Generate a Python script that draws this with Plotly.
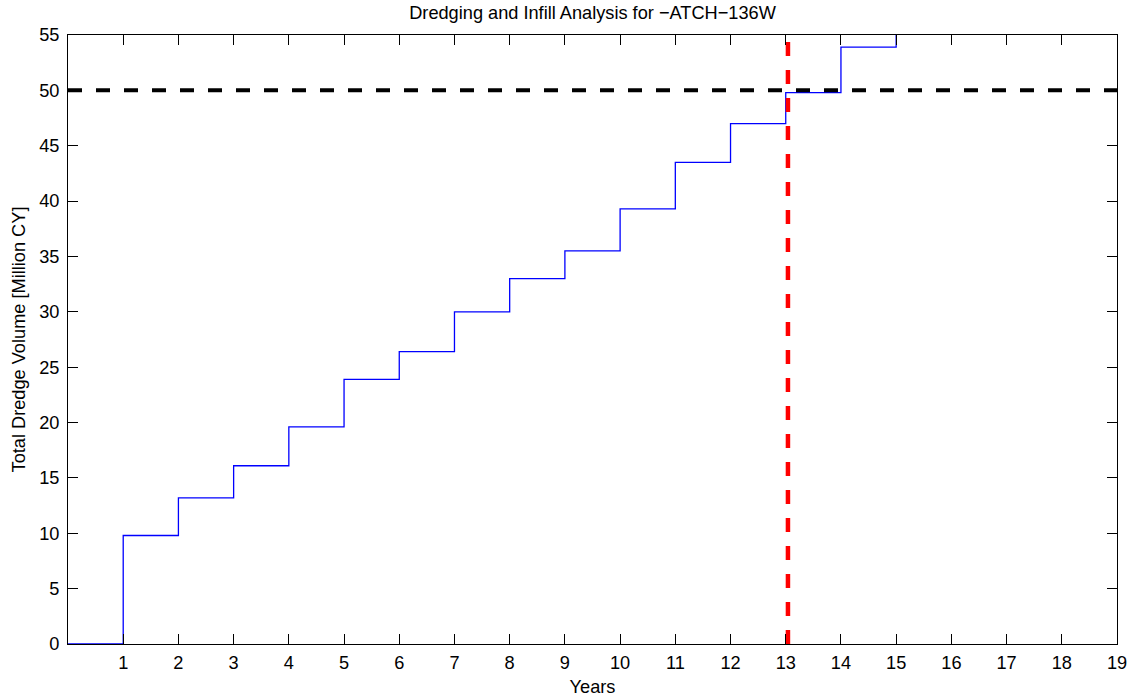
import plotly.graph_objects as go

# Data
years = [0, 1, 2, 3, 4, 5, 6, 7, 8, 9, 10, 11, 12, 13, 14, 15]
total_volume = [0.0, 9.8, 13.2, 16.1, 19.6, 23.9, 26.4, 30.0, 33.0, 35.5, 39.3, 43.5, 47.0, 49.8, 53.9, 57.5]
step_end_year = 16

threshold_volume = 50
crossing_year = 13.04

x_ticks = list(range(1, 20))
y_ticks = list(range(0, 56, 5))

font_family = "Liberation Sans, Arial, Helvetica, sans-serif"
fs = 18.2

fig = go.Figure()

fig.add_trace(go.Scatter(
    x=years + [step_end_year], y=total_volume + [total_volume[-1]],
    mode="lines", line=dict(color="#0000ff", width=1.3, shape="hv"),
    showlegend=False, hoverinfo="x+y"))

fig.add_trace(go.Scatter(
    x=[0, 19], y=[threshold_volume, threshold_volume],
    mode="lines", line=dict(color="black", width=4, dash="14px,14px"),
    showlegend=False))

fig.add_trace(go.Scatter(
    x=[crossing_year, crossing_year], y=[0, 55],
    mode="lines", line=dict(color="#ff0000", width=4.5, dash="14px,14px"),
    showlegend=False))

axis_common = dict(
    showline=True, linecolor="black", linewidth=1, mirror="ticks",
    ticks="inside", ticklen=10, tickcolor="black", tickwidth=1,
    showgrid=False, zeroline=False, automargin=False,
    tickfont=dict(family=font_family, size=fs, color="black"),
)

fig.update_layout(
    width=1129, height=698,
    margin=dict(l=68, r=12, t=35, b=54, autoexpand=False),
    paper_bgcolor="white", plot_bgcolor="white",
    font=dict(family=font_family, size=fs, color="black"),
    title=dict(text="Dredging and Infill Analysis for \u2212ATCH\u2212136W",
               x=0.5, xref="paper", xanchor="center",
               y=1 - 13 / 698, yref="container", yanchor="middle",
               automargin=False,
               font=dict(family=font_family, size=fs, color="black")),
    xaxis=dict(range=[0, 19], tickvals=x_ticks, ticktext=[str(v) for v in x_ticks],
               title=dict(text="Years", standoff=8,
                          font=dict(family=font_family, size=fs, color="black")),
               ticklabelstandoff=2,
               **axis_common),
    yaxis=dict(range=[0, 55], tickvals=y_ticks, ticktext=[str(v) for v in y_ticks],
               title=dict(text="Total Dredge Volume [Million CY]", standoff=8,
                          font=dict(family=font_family, size=fs, color="black")),
               ticklabelstandoff=4,
               **axis_common),
)

fig.write_html(
    "out.html",
    config={"displayModeBar": False},
    post_script="document.body.style.margin='0';document.body.style.overflow='hidden';",
)
